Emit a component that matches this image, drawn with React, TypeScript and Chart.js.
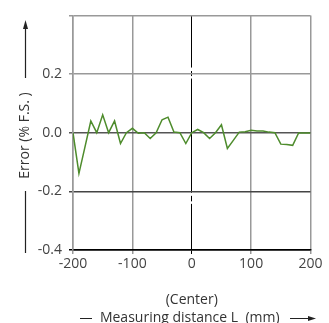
import React, { useEffect, useRef } from "react";
import { Chart, registerables } from "chart.js";

Chart.register(...registerables);

const distances = [
  -200, -190, -180, -170, -160, -150, -140, -130, -120, -110, -100, -90, -80, -70, -60, -50, -40, -30, -20, -10,
  0, 10, 20, 30, 40, 50, 60, 70, 80, 90, 100, 110, 120, 130, 140, 150, 160, 170, 180, 190, 200,
];
const errors = [
  0.0, -0.139, -0.05, 0.04, 0.0, 0.061, 0.0, 0.04, -0.037, 0.0, 0.015, -0.002, 0.0, -0.02, 0.0, 0.044, 0.053, 0.002, 0.0, -0.037,
  0.0, 0.011, 0.0, -0.02, 0.0, 0.027, -0.054, -0.026, 0.002, 0.003, 0.008, 0.006, 0.006, 0.002, 0.0, -0.039, -0.04, -0.043, -0.001, -0.001, -0.001,
];
const xTicks = [-200, -100, 0, 100, 200];
const yTicks = [-0.4, -0.2, 0.0, 0.2, 0.4];

const FONT = "'Open Sans', sans-serif";

const annotations = {
  id: "annotations",
  afterDraw(chart: any) {
    const ctx = chart.ctx;
    const x = chart.scales.x;
    const y = chart.scales.y;
    ctx.save();
    ctx.fillStyle = "#333";
    ctx.font = `14px ${FONT}`;
    ctx.textAlign = "center";
    ctx.textBaseline = "middle";
    const cx = x.getPixelForValue(0);
    ctx.fillText("(Center)", cx, 300);
    ctx.fillText("Measuring distance L  (mm)", cx - 2, 318);
    ctx.strokeStyle = "#222";
    ctx.lineWidth = 1.2;
    ctx.beginPath();
    ctx.moveTo(80, 318.5);
    ctx.lineTo(92, 318.5);
    ctx.moveTo(290, 318.5);
    ctx.lineTo(310, 318.5);
    ctx.stroke();
    ctx.fillStyle = "#222";
    ctx.beginPath();
    ctx.moveTo(316, 318.5);
    ctx.lineTo(308, 316);
    ctx.lineTo(308, 321);
    ctx.closePath();
    ctx.fill();

    // y title
    ctx.save();
    ctx.translate(25, 135.5);
    ctx.rotate(-Math.PI / 2);
    ctx.fillStyle = "#333";
    ctx.fillText("Error (% F.S. )", 0, 0);
    ctx.restore();
    ctx.beginPath();
    ctx.moveTo(25.5, 78);
    ctx.lineTo(25.5, 27);
    ctx.moveTo(25.5, 191);
    ctx.lineTo(25.5, 253);
    ctx.stroke();
    ctx.beginPath();
    ctx.moveTo(25.5, 20);
    ctx.lineTo(23, 29);
    ctx.lineTo(28, 29);
    ctx.closePath();
    ctx.fill();

    // gaps in center line
    ctx.fillStyle = "#fff";
    const p2 = y.getPixelForValue(0.2);
    const m2 = y.getPixelForValue(-0.2);
    ctx.fillRect(cx - 1.5, p2 - 6.5, 3, 3.5);
    ctx.fillRect(cx - 1.5, p2 + 2, 3, 2.5);
    ctx.fillRect(cx - 1.5, m2 + 1.5, 3, 3);
    ctx.fillRect(cx - 1.5, m2 + 10, 3, 2.5);
    ctx.restore();
  },
};

export default function App() {
  const ref = useRef<HTMLCanvasElement>(null);
  useEffect(() => {
    if (!ref.current) return;
    const chart = new Chart(ref.current, {
      type: "line",
      data: {
        datasets: [
          {
            data: distances.map((d, i) => ({ x: d, y: errors[i] })),
            borderColor: "#4e8c2c",
            borderWidth: 1.5,
            pointRadius: 0,
            tension: 0,
            fill: false,
          },
        ],
      },
      options: {
        responsive: false,
        animation: false,
        events: [],
        layout: { padding: { left: 0, right: 18.5, top: 14, bottom: 0 } },
        plugins: { legend: { display: false }, tooltip: { enabled: false } },
        scales: {
          x: {
            type: "linear",
            min: -200,
            max: 200,
            afterBuildTicks: (s: any) => {
              s.ticks = xTicks.map((v) => ({ value: v }));
            },
            afterFit: (s: any) => {
              s.height = 73;
            },
            ticks: {
              color: "#444",
              font: { family: FONT, size: 14 },
              padding: 2,
              maxRotation: 0,
              callback: (v: any) => String(Math.round(Number(v))),
            },
            grid: {
              color: (c: any) => (c.tick && Math.round(c.tick.value) === 0 ? "#000" : "#999"),
              lineWidth: (c: any) => (c.tick && Math.round(c.tick.value) === 0 ? 1 : 1.5),
              tickLength: 4,
            },
            border: { color: "#000", width: 1.5 },
          },
          y: {
            type: "linear",
            min: -0.4,
            max: 0.4,
            afterBuildTicks: (s: any) => {
              s.ticks = yTicks.map((v) => ({ value: v }));
            },
            afterFit: (s: any) => {
              s.width = 73;
            },
            ticks: {
              color: "#444",
              font: { family: FONT, size: 14 },
              padding: 7,
              callback: (v: any) => {
                const n = Math.round(Number(v) * 10) / 10;
                if (n === 0.4) return "";
                return n.toFixed(1);
              },
            },
            grid: {
              color: (c: any) => {
                const n = c.tick ? Math.round(c.tick.value * 10) / 10 : 0;
                if (n >= 0.2) return "#999";
                if (n === 0) return "#555";
                if (n === -0.2) return "#444";
                return "#000";
              },
              lineWidth: 1.5,
              tickLength: 4,
            },
            border: { color: "#999", width: 1.5 },
          },
        },
      },
      plugins: [annotations],
    } as any);
    return () => chart.destroy();
  }, []);
  return (
    <div style={{ position: "fixed", left: 0, top: 0, width: 329, height: 323, background: "#fff" }}>
      <canvas ref={ref} width={329} height={323} style={{ width: 329, height: 323, display: "block" }} />
    </div>
  );
}
